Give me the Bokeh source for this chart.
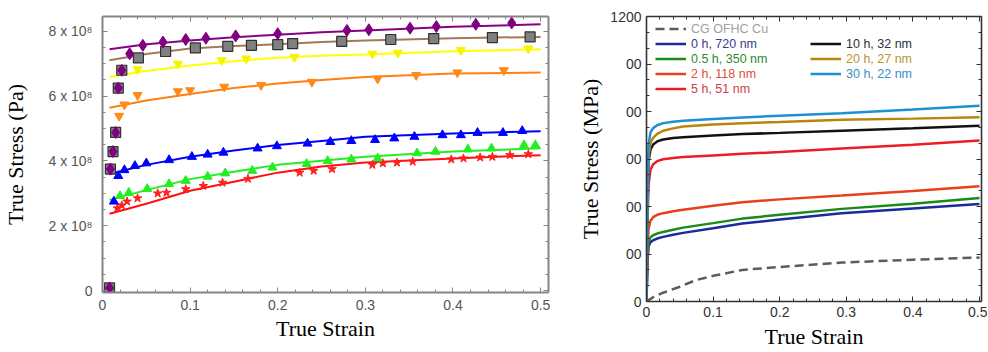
import numpy as np
from bokeh.plotting import figure
from bokeh.layouts import row
from bokeh.models import FixedTicker, LinearAxis, Legend, LegendItem, Range1d, CustomLabelingPolicy
from bokeh.embed import file_html
from bokeh.resources import INLINE

# ---------------- Left panel data (stress in units of 1e8 Pa) ----------------
fit_strain = [0.008, 0.05, 0.1, 0.15, 0.2, 0.25, 0.3, 0.4, 0.5]
fit_purple = [7.45, 7.60, 7.72, 7.82, 7.90, 7.97, 8.03, 8.14, 8.22]
fit_brown = [7.11, 7.30, 7.47, 7.55, 7.60, 7.67, 7.72, 7.79, 7.83]
fit_yellow = [6.59, 6.78, 6.95, 7.08, 7.19, 7.25, 7.29, 7.39, 7.45]
fit_orange = [5.64, 5.87, 6.07, 6.25, 6.39, 6.50, 6.59, 6.70, 6.73]
fit_blue = [3.60, 3.88, 4.13, 4.32, 4.49, 4.62, 4.75, 4.85, 4.92]
fit_green = [2.80, 3.10, 3.44, 3.67, 3.88, 4.01, 4.13, 4.29, 4.39]
fit_red = [2.37, 2.68, 3.08, 3.36, 3.64, 3.83, 3.95, 4.08, 4.18]

early_strain = [0.008, 0.009, 0.012, 0.015, 0.018, 0.022]
early_stress = [0.08, 3.75, 4.29, 4.88, 6.25, 6.80]

dia_strain = [0.031, 0.046, 0.069, 0.095, 0.118, 0.152, 0.200, 0.279, 0.304, 0.351, 0.381, 0.426, 0.467]
dia_stress = [7.31, 7.57, 7.67, 7.75, 7.79, 7.86, 7.93, 8.03, 8.05, 8.10, 8.15, 8.22, 8.26]

sq_strain = [0.041, 0.072, 0.106, 0.143, 0.170, 0.200, 0.217, 0.273, 0.329, 0.378, 0.445, 0.488]
sq_stress = [7.18, 7.38, 7.49, 7.54, 7.57, 7.59, 7.62, 7.69, 7.75, 7.78, 7.81, 7.83]

yel_strain = [0.040, 0.086, 0.136, 0.164, 0.219, 0.308, 0.337, 0.409, 0.486]
yel_stress = [6.83, 7.00, 7.11, 7.16, 7.21, 7.31, 7.34, 7.42, 7.47]

ora_strain = [0.019, 0.025, 0.040, 0.086, 0.100, 0.139, 0.181, 0.239, 0.314, 0.358, 0.405, 0.458]
ora_stress = [5.39, 5.74, 6.03, 6.15, 6.18, 6.29, 6.34, 6.44, 6.54, 6.65, 6.73, 6.80]

blu_strain = [0.013, 0.018, 0.025, 0.037, 0.050, 0.076, 0.102, 0.120, 0.138, 0.177, 0.199, 0.234,
              0.260, 0.284, 0.311, 0.333, 0.356, 0.388, 0.409, 0.428, 0.457, 0.479]
blu_stress = [2.75, 3.54, 3.72, 3.85, 3.93, 4.03, 4.13, 4.20, 4.26, 4.39, 4.46, 4.54,
              4.59, 4.62, 4.65, 4.70, 4.75, 4.80, 4.80, 4.87, 4.87, 4.93]

grn_strain = [0.020, 0.030, 0.051, 0.076, 0.095, 0.120, 0.140, 0.171, 0.194, 0.233, 0.257, 0.284,
              0.314, 0.359, 0.380, 0.417, 0.444, 0.481, 0.494]
grn_stress = [2.92, 3.02, 3.14, 3.29, 3.39, 3.52, 3.62, 3.70, 3.80, 3.91, 4.00, 4.05,
              4.08, 4.24, 4.29, 4.36, 4.39, 4.49, 4.49]

red_strain = [0.017, 0.022, 0.028, 0.040, 0.063, 0.073, 0.095, 0.115, 0.137, 0.166, 0.225, 0.241,
              0.262, 0.308, 0.320, 0.336, 0.354, 0.398, 0.412, 0.431, 0.445, 0.465, 0.486]
red_stress = [2.54, 2.63, 2.75, 2.85, 3.00, 3.02, 3.13, 3.23, 3.33, 3.45, 3.64, 3.70,
              3.75, 3.88, 3.93, 3.95, 3.98, 4.05, 4.08, 4.11, 4.13, 4.18, 4.21]

left_yticks = [0, 2, 4, 6, 8]
left_ylabels = ["0", "2 x 10\u2078", "4 x 10\u2078", "6 x 10\u2078", "8 x 10\u2078"]

# ---------------- Right panel data (MPa) ----------------
r_strain = [0, 0.0015, 0.003, 0.006, 0.010, 0.016, 0.025, 0.04, 0.055, 0.1, 0.144, 0.2, 0.293, 0.4, 0.5]
h30 = [0, 420, 660, 712, 730, 742, 751, 757, 761, 768, 775, 782, 793, 808, 824]
h20 = [0, 380, 610, 668, 689, 706, 719, 729, 737, 745, 751, 756, 765, 770, 776]
h10 = [0, 370, 590, 640, 661, 674, 682, 688, 692, 699, 705, 710, 719, 729, 740]
h5 = [0, 330, 490, 555, 578, 591, 599, 604, 608, 615, 622, 629, 644, 660, 678]
h2 = [0, 220, 305, 340, 355, 365, 372, 380, 386, 403, 418, 430, 446, 465, 485]
h05 = [0, 180, 250, 270, 279, 286, 293, 302, 311, 330, 349, 365, 390, 412, 436]
h0 = [0, 165, 230, 250, 258, 265, 272, 281, 289, 308, 328, 345, 372, 392, 411]
cg_strain = [0, 0.01, 0.025, 0.05, 0.074, 0.1, 0.144, 0.2, 0.293, 0.4, 0.5]
cg_stress = [0, 18, 37, 62, 90, 108, 133, 145, 164, 176, 185]

right_yticks = [0, 200, 400, 600, 800, 1000, 1200]
right_ylabels = ["0", "00", "00", "00", "00", "00", "1200"]

x_major = [0, 0.1, 0.2, 0.3, 0.4, 0.5]
x_minor = [round(v, 3) for v in np.arange(0, 0.52, 0.02)]

SANS = "Liberation Sans"
SERIF = "Liberation Serif"


def base_axes(p, xminor, yticks, yminor, ylabels, axis_color, axis_w, lab_color, ylab,
              xstand, xlabstand, ystand, ylabstand):
    xa = p.below[0]
    ya = p.left[0]
    xa.ticker = FixedTicker(ticks=x_major, minor_ticks=xminor)
    xa.major_label_overrides = {0: "0"}
    ya.ticker = FixedTicker(ticks=yticks, minor_ticks=yminor)
    ya.major_label_overrides = {t: l for t, l in zip(yticks, ylabels)}
    xa.axis_label = "True Strain"
    ya.axis_label = ylab
    for a in (xa, ya):
        a.axis_line_color = axis_color
        a.axis_line_width = axis_w
        a.major_tick_in = 5
        a.major_tick_out = 0
        a.minor_tick_in = 3
        a.minor_tick_out = 0
        a.major_tick_line_color = axis_color
        a.minor_tick_line_color = axis_color
        a.major_label_text_font = SANS
        a.major_label_text_font_size = "14px"
        a.major_label_text_color = lab_color
        a.axis_label_text_font = SERIF
        a.axis_label_text_font_size = "22px"
        a.axis_label_text_font_style = "normal"
        a.axis_label_text_color = "black"
    xa.major_label_standoff = xstand
    xa.axis_label_standoff = xlabstand
    ya.major_label_standoff = ystand
    ya.axis_label_standoff = ylabstand
    for loc, tk, mn in (("above", x_major, xminor), ("right", yticks, yminor)):
        m = LinearAxis(ticker=FixedTicker(ticks=tk, minor_ticks=mn),
                       major_label_policy=CustomLabelingPolicy(code="return []"))
        m.axis_line_color = axis_color
        m.axis_line_width = axis_w
        m.major_tick_in = 5
        m.major_tick_out = 0
        m.minor_tick_in = 3
        m.minor_tick_out = 0
        m.major_tick_line_color = axis_color
        m.minor_tick_line_color = axis_color
        m.major_label_text_font_size = "0px"
        m.major_label_standoff = 0
        p.add_layout(m, loc)
    p.grid.visible = False
    p.outline_line_color = None


BOTTOM = 50

# ---------------- Left figure ----------------
p1 = figure(width=575, height=16 + 277 + BOTTOM, x_range=Range1d(0, 0.509), y_range=Range1d(-0.06, 8.46),
            output_backend="svg", toolbar_location=None,
            min_border_left=100, min_border_right=27, min_border_top=16, min_border_bottom=BOTTOM)
left_minor_y = [round(v, 2) for v in np.arange(0, 8.5, 0.5)]
base_axes(p1, x_minor, left_yticks, left_minor_y, left_ylabels, "#858585", 2, "#555555",
          "True Stress (Pa)", 7, 3, 10, 17)

lw = 2
p1.line(fit_strain, fit_red, color="#ff1010", line_width=lw)
p1.line(fit_strain, fit_green, color="#22ee22", line_width=lw)
p1.line(fit_strain, fit_blue, color="#0000ff", line_width=lw)
p1.line(fit_strain, fit_orange, color="#ff8010", line_width=lw)
p1.line(fit_strain, fit_yellow, color="#ffff00", line_width=lw)
p1.line(fit_strain, fit_brown, color="#a07a58", line_width=lw)
p1.line(fit_strain, fit_purple, color="#880088", line_width=lw)

p1.scatter(red_strain, red_stress, marker="star", size=9, color="#ff2020")
p1.scatter(grn_strain, grn_stress, marker="triangle", size=9, color="#22ee22")
p1.scatter(blu_strain, blu_stress, marker="triangle", size=9, color="#0000ff")
p1.scatter(ora_strain, ora_stress, marker="inverted_triangle", size=9, color="#ff8a1a")
p1.scatter(yel_strain, yel_stress, marker="inverted_triangle", size=9, color="#f5f500")
p1.scatter(sq_strain, sq_stress, marker="square", size=10, fill_color="#808080", line_color="#303030", line_width=1.2)
p1.scatter(early_strain, early_stress, marker="square", size=10, fill_color="#808080", line_color="#303030", line_width=1.2)
p1.scatter(early_strain, early_stress, marker="diamond", size=12, color="#800080")
p1.scatter(dia_strain, dia_stress, marker="diamond", size=12, color="#800080")

# ---------------- Right figure ----------------
p2 = figure(width=412, height=16 + 286 + BOTTOM, x_range=Range1d(0, 0.503), y_range=Range1d(0, 1200),
            output_backend="svg", toolbar_location=None,
            min_border_left=68, min_border_right=6, min_border_top=16, min_border_bottom=BOTTOM)
right_minor_y = [round(v, 2) for v in np.arange(0, 1201, 200 / 3)]
base_axes(p2, x_minor, right_yticks, right_minor_y, right_ylabels, "#333333", 1.6, "#333333",
          "True Stress (MPa)", 5, 4, 5, 4)

w = 2.5
series = [
    ("CG OFHC Cu", cg_strain, cg_stress, "#5c5c5c", "#a0a0a0", "9 5"),
    ("0 h, 720 nm", r_strain, h0, "#1a2a9e", "#3c3c8c", "solid"),
    ("0.5 h, 350 nm", r_strain, h05, "#1a8a1a", "#2e8b2e", "solid"),
    ("2 h, 118 nm", r_strain, h2, "#e8401a", "#e05030", "solid"),
    ("5 h, 51 nm", r_strain, h5, "#ee1c24", "#d23c46", "solid"),
    ("10 h, 32 nm", r_strain, h10, "#111111", "#303030", "solid"),
    ("20 h, 27 nm", r_strain, h20, "#b8860b", "#b8962e", "solid"),
    ("30 h, 22 nm", r_strain, h30, "#1e90d0", "#3a90c0", "solid"),
]
leg_pos = [(9, 265), (9, 250), (9, 235), (9, 220), (9, 205), (164, 250), (164, 235), (164, 220)]
for (lab, xs, ys, col, tcol, dash), (vx, vy) in zip(series, leg_pos):
    r = p2.line(xs, ys, color=col, line_width=w, line_dash=dash)
    leg = Legend(items=[LegendItem(label=lab, renderers=[r])], location=(vx, vy),
                 padding=0, margin=0, spacing=0, glyph_width=31, glyph_height=15,
                 label_height=15, label_standoff=5, label_text_font=SANS,
                 label_text_font_size="12.5px", label_text_color=tcol,
                 border_line_color=None, background_fill_alpha=0)
    p2.add_layout(leg)

layout = row(p1, p2)
open("out.html", "w").write(file_html(layout, INLINE))
